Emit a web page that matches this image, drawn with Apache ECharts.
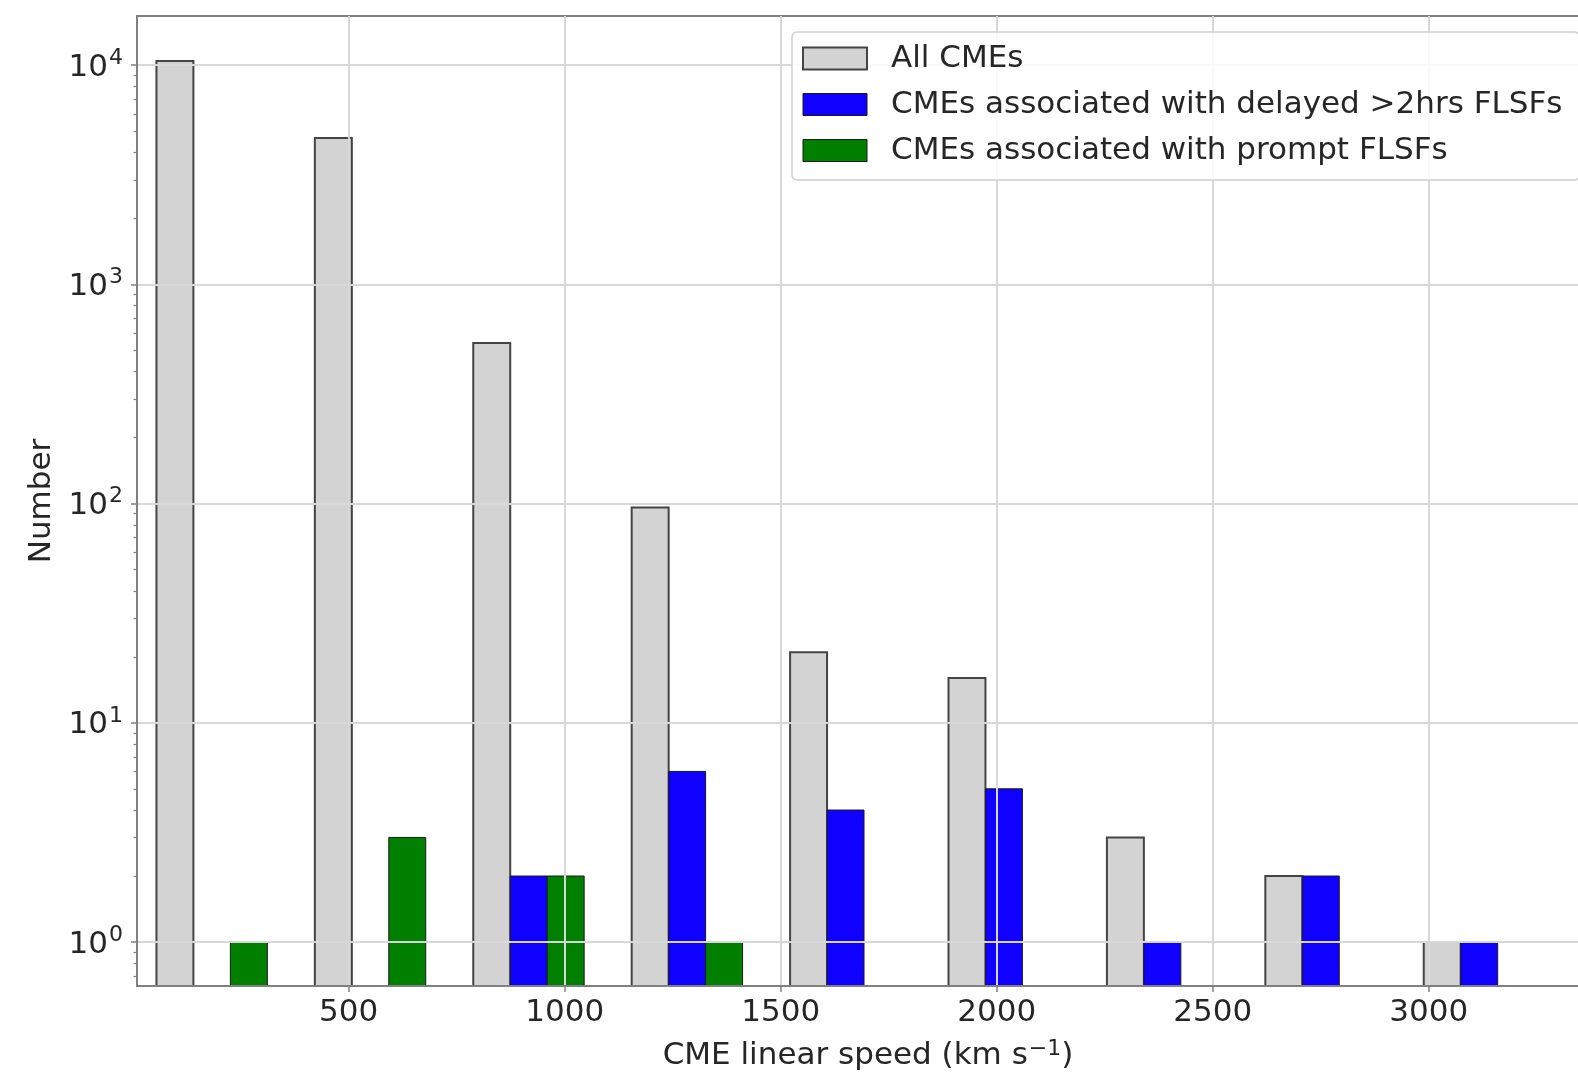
<!DOCTYPE html>
<html>
<head>
<meta charset="utf-8">
<script src="https://cdn.jsdelivr.net/npm/echarts@6/dist/echarts.min.js"></script>
<style>
  html, body { margin: 0; padding: 0; background: #ffffff; }
  #chart { width: 1578px; height: 1072px; }
</style>
</head>
<body>
<div id="chart"></div>
<script>
// ---- data ----
const binEdges = [0, 366.67, 733.33, 1100, 1466.67, 1833.33, 2200, 2566.67, 2933.33, 3300];
const seriesNames = ['All CMEs', 'CMEs associated with delayed >2hrs FLSFs', 'CMEs associated with prompt FLSFs'];
const allCMEs = [10450, 4655, 540, 96, 21, 16, 3, 2, 1];
const delayedFLSF = [0, 0, 2, 6, 4, 5, 1, 2, 1];
const promptFLSF = [1, 3, 2, 1, 0, 0, 0, 0, 0];
const xTicks = [500, 1000, 1500, 2000, 2500, 3000];
const yTicks = [1, 10, 100, 1000, 10000];

const X_MIN = 10, X_MAX = 3394;
const Y_MIN = 0.63, Y_MAX = 16770;
const RWIDTH = 0.7;

const minorTicks = [];
[0.1, 1, 10, 100, 1000].forEach(function (d) {
  for (let k = 2; k <= 9; k++) {
    const v = +(k * d).toPrecision(3);
    if (v > Y_MIN && v < Y_MAX) minorTicks.push(v);
  }
});

const fills = ['#d3d3d3', '#1000ff', '#007f00'];
const strokes = ['#444444', '#1a1a1a', '#1a1a1a'];
const strokeW = [2, 1, 1];
const valueSets = [allCMEs, delayedFLSF, promptFLSF];

function makeData(vals) {
  return vals.map(function (v, i) { return [binEdges[i], binEdges[i + 1], v]; });
}

function makeRender(idx) {
  return function (params, api) {
    const v = api.value(2);
    if (!(v > 0)) return null;
    const x0 = api.value(0), x1 = api.value(1);
    const w = x1 - x0;
    const bw = RWIDTH * w / 3;
    const left = x0 + w * (1 - RWIDTH) / 2 + idx * bw;
    const pTop = api.coord([left, v]);
    const pBot = api.coord([left + bw, Y_MIN]);
    return {
      type: 'rect',
      shape: { x: pTop[0], y: pTop[1], width: pBot[0] - pTop[0], height: pBot[1] - pTop[1] },
      style: { fill: fills[idx], stroke: strokes[idx], lineWidth: strokeW[idx] }
    };
  };
}

const FONT = 'DejaVu Sans';
const TXT = '#262626';
const supRich = {
  b: { fontSize: 31, fontFamily: FONT, color: TXT, lineHeight: 34, verticalAlign: 'bottom' },
  s: { fontSize: 22, fontFamily: FONT, color: TXT, lineHeight: 36, verticalAlign: 'top', padding: [0, 0, 0, 1] }
};

const chart = echarts.init(document.getElementById('chart'), null, { renderer: 'canvas' });

const option = {
  animation: false,
  backgroundColor: '#ffffff',
  grid: {
    left: 137, top: 16, width: 1462, height: 970,
    containLabel: false, outerBoundsMode: 'none',
    show: true, borderColor: '#808080', borderWidth: 2, backgroundColor: 'transparent'
  },
  legend: {
    orient: 'vertical',
    left: 792, top: 32,
    z: 20,
    padding: [11, 17, 14, 10],
    itemWidth: 64, itemHeight: 22, itemGap: 15,
    backgroundColor: 'rgba(255,255,255,0.85)',
    borderColor: '#d0d0d0', borderWidth: 1.5, borderRadius: 5,
    selectedMode: false,
    icon: 'rect',
    textStyle: { fontSize: 31, fontFamily: FONT, color: TXT, lineHeight: 31, padding: [0, 0, 0, 19] },
    data: seriesNames.map(function (n, i) {
      return { name: n, icon: 'rect', itemStyle: { color: fills[i], borderColor: strokes[i], borderWidth: i === 0 ? 2 : 1 } };
    })
  },
  xAxis: [{
    type: 'value', min: X_MIN, max: X_MAX, z: 5,
    name: 'CME linear speed (km s{s|\u22121})',
    nameLocation: 'middle', nameGap: 52,
    nameTextStyle: { fontSize: 31, fontFamily: FONT, color: TXT, rich: supRich },
    axisLine: { show: true, onZero: false, lineStyle: { color: '#808080', width: 2 } },
    axisTick: { show: true, length: 6, customValues: xTicks, lineStyle: { color: '#808080', width: 1.5 } },
    axisLabel: {
      show: true, customValues: xTicks, margin: 11, fontSize: 31, fontFamily: FONT, color: TXT,
      formatter: function (v) { return String(v); }
    },
    splitLine: { show: true, lineStyle: { color: '#d8d8d8', width: 2 } }
  }],
  yAxis: [{
    type: 'log', logBase: 10, min: Y_MIN, max: Y_MAX, z: 5, position: 'left',
    name: 'Number', nameLocation: 'middle', nameGap: 76,
    nameTextStyle: { fontSize: 31, fontFamily: FONT, color: TXT },
    axisLine: { show: true, lineStyle: { color: '#808080', width: 2 } },
    axisTick: { show: true, length: 6, customValues: yTicks, lineStyle: { color: '#808080', width: 1.5 } },
    axisLabel: {
      show: true, customValues: yTicks, margin: 14,
      formatter: function (v) { return '{b|10}{s|' + Math.round(Math.log10(v)) + '}'; },
      rich: supRich
    },
    splitLine: { show: true, lineStyle: { color: '#d8d8d8', width: 2 } }
  }, {
    type: 'log', logBase: 10, min: Y_MIN, max: Y_MAX, z: 5, position: 'left',
    axisLine: { show: false },
    axisTick: { show: true, length: 3.5, customValues: minorTicks, lineStyle: { color: '#808080', width: 1.2 } },
    axisLabel: { show: false },
    splitLine: { show: false }
  }],
  series: seriesNames.map(function (n, i) {
    return {
      name: n, type: 'custom', z: 2,
      xAxisIndex: 0, yAxisIndex: 0,
      itemStyle: { color: fills[i], borderColor: strokes[i] },
      encode: { x: [0, 1], y: 2 },
      renderItem: makeRender(i),
      clip: true,
      data: makeData(valueSets[i])
    };
  })
};

chart.setOption(option);
</script>
</body>
</html>
